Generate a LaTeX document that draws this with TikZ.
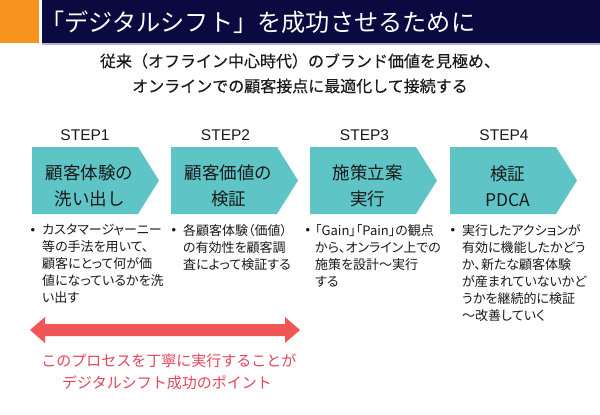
\documentclass[tikz,border=0pt]{standalone}
\usepackage{fontspec}
\usetikzlibrary{calc}
\setmainfont{Noto Sans CJK JP}
\newfontfamily\jpp[RawFeature=+palt]{Noto Sans CJK JP}
\newfontfamily\jpm[FakeBold=0.3]{Noto Sans CJK JP}
\newfontfamily\arialf{Liberation Sans}
\definecolor{orangeC}{HTML}{F7941D}
\definecolor{navyC}{HTML}{0A0A40}
\definecolor{shadowC}{HTML}{B4B4D2}
\definecolor{tealC}{HTML}{5EC4C6}
\definecolor{arrowC}{HTML}{F25555}
\definecolor{redtxtC}{HTML}{E2465A}
\definecolor{inkC}{HTML}{1A1A1A}
\tikzset{
  titletext/.style={anchor=west, inner sep=0pt, text=white, font=\fontsize{24.2}{28}\selectfont},
  subtext/.style={inner sep=0pt, text=inkC, font=\jpm\fontsize{16}{20}\selectfont},
  steplabel/.style={inner sep=0pt, text=inkC, font=\arialf\fontsize{15.5}{18}\selectfont},
  chevtext/.style={inner sep=0pt, align=center, text=inkC, font=\fontsize{17.5}{26}\selectfont},
  chevron/.style={fill=tealC},
  bdot/.style={inner sep=0pt, text=inkC, font=\arialf\fontsize{13}{15}\selectfont},
  btext/.style={anchor=north west, inner sep=0pt, align=left, text=inkC, font=\jpp\fontsize{13}{17}\selectfont},
  redtext/.style={inner sep=0pt, text=redtxtC, font=\fontsize{15}{18}\selectfont}
}
\begin{document}
\begin{tikzpicture}[x=1pt,y=-1pt]
\useasboundingbox (0,0) rectangle (600,415);
\fill[white] (0,0) rectangle (600,415);
% header
\fill[orangeC] (0,0) rectangle (39,43);
\fill[navyC] (42,0) rectangle (600,43);
\fill[shadowC] (42,43) rectangle (600,45);
\node[titletext] (title) at (40,22) {「デジタルシフト」を成功させるために};
% subtitle
\node[subtext] (sub1) at (300,61) {従来（オフライン中心時代）のブランド価値を見極め、};
\node[subtext] (sub2) at (300,86) {オンラインでの顧客接点に最適化して接続する};
% step labels
\node[steplabel] (s1) at (85,135) {STEP1};
\node[steplabel] (s2) at (225.5,135) {STEP2};
\node[steplabel] (s3) at (364.5,135) {STEP3};
\node[steplabel] (s4) at (504,135) {STEP4};
% chevrons
\foreach \x in {32,171,310,450}{
  \fill[chevron] (\x,147) -- ++(106,0) -- ++(21,33.5) -- ++(-21,33.5) -- ++(-106,0) -- cycle;
}
\node[chevtext] (c1) at (89.5,186) {顧客体験の\\洗い出し};
\node[chevtext] (c2) at (228.5,186) {顧客価値の\\検証};
\node[chevtext] (c3) at (367.5,186) {施策立案\\実行};
\node[chevtext] (c4) at (507.5,186) {検証\\PDCA};
% bullets
\node[bdot] (d1) at (33,231) {•};
\node[bdot] (d2) at (174,231) {•};
\node[bdot] (d3) at (308,231) {•};
\node[bdot] (d4) at (453,231) {•};
\node[btext] (t1) at (42,224) {カスタマージャーニー\\等の手法を用いて、\\顧客にとって何が価\\値になっているかを洗\\い出す};
\node[btext] (t2) at (183,224) {各顧客体験（価値）\\の有効性を顧客調\\査によって検証する};
\node[btext] (t3) at (315,224) {「Gain」「Pain」の観点\\から、オンライン上での\\施策を設計～実行\\する};
\node[btext] (t4) at (462,224) {実行したアクションが\\有効に機能したかどう\\か、新たな顧客体験\\が産まれていないかど\\うかを継続的に検証\\～改善していく};
% red double arrow
\coordinate (aL) at (30,330);
\coordinate (aR) at (300,330);
\fill[arrowC] (aL) -- ++(15,-13) -- ++(0,7) -- ($(aR)+(-15,-6)$) -- ++(0,-7) -- (aR)
  -- ++(-15,13) -- ++(0,-7) -- ($(aL)+(15,6)$) -- ++(0,7) -- cycle;
\node[redtext] (r1) at (169,361) {このプロセスを丁寧に実行することが};
\node[redtext] (r2) at (167,383) {デジタルシフト成功のポイント};
\end{tikzpicture}
\end{document}
